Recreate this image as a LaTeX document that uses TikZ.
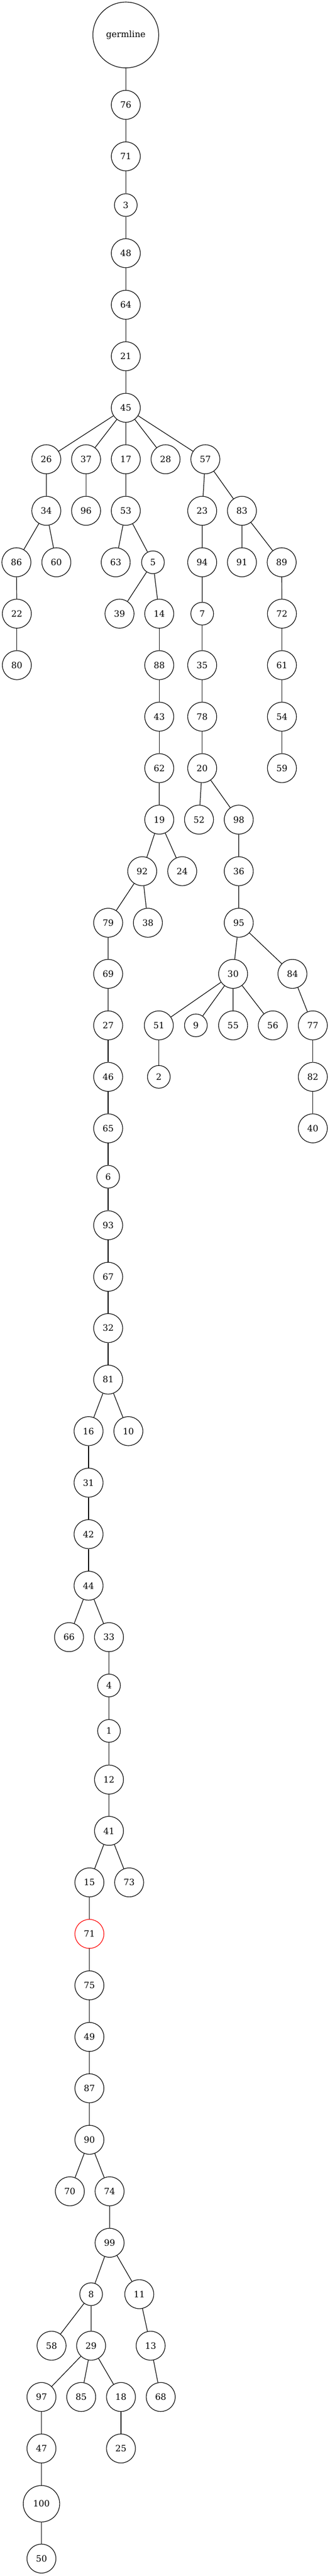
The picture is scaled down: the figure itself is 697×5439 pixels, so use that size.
\documentclass[tikz,border=0pt]{standalone}
\usepackage{fontspec}
\setmainfont{DejaVu Serif}
\definecolor{cff0000}{RGB}{255,0,0}
\tikzset{
  vert/.style={circle, draw=black, line width=0.65pt, inner sep=0pt, minimum size=30.6pt, font=\fontsize{9.2}{11}\selectfont},
  vsmall/.style={vert, minimum size=24pt},
  vwide/.style={vert, minimum size=38.5pt},
  vroot/.style={vert, minimum size=69.5pt},
  vmark/.style={vert, draw=cff0000},
  edge/.style={draw=black, line width=0.65pt}
}
\begin{document}
\begin{tikzpicture}[x=0.5pt, y=0.5pt, yscale=-1]
\useasboundingbox (0,0) rectangle (697,5439);
\node[vroot] (germline) at (265.8,73.9) {germline};
\node[vert] (n76) at (265.8,221.4) {76};
\node[vert] (n71a) at (265.8,330.2) {71};
\node[vsmall] (n3) at (265.8,433.0) {3};
\node[vert] (n48) at (265.8,534.6) {48};
\node[vert] (n64) at (265.8,643.5) {64};
\node[vert] (n21) at (265.8,752.2) {21};
\node[vert] (n45) at (265.8,861.0) {45};
\node[vert] (n26) at (97.8,969.7) {26};
\node[vert] (n37) at (181.8,969.7) {37};
\node[vert] (n17) at (265.8,969.7) {17};
\node[vert] (n28) at (349.8,969.7) {28};
\node[vert] (n57) at (433.9,969.7) {57};
\node[vert] (n34) at (97.8,1078.5) {34};
\node[vert] (n96) at (181.8,1078.5) {96};
\node[vert] (n53) at (265.8,1078.5) {53};
\node[vert] (n23) at (427.2,1078.5) {23};
\node[vert] (n83) at (511.2,1078.5) {83};
\node[vert] (n86) at (34.7,1187.2) {86};
\node[vert] (n60) at (119.1,1187.2) {60};
\node[vert] (n63) at (244.5,1187.2) {63};
\node[vsmall] (n5) at (323.2,1187.2) {5};
\node[vert] (n94) at (427.2,1187.2) {94};
\node[vert] (n91) at (511.2,1187.2) {91};
\node[vert] (n89) at (595.2,1187.2) {89};
\node[vert] (n22) at (35.6,1295.7) {22};
\node[vert] (n39) at (252.5,1295.7) {39};
\node[vert] (n14) at (336.5,1295.7) {14};
\node[vsmall] (n7) at (427.2,1295.7) {7};
\node[vert] (n72) at (595.7,1295.7) {72};
\node[vert] (n80) at (35.6,1404.4) {80};
\node[vert] (n88) at (336.5,1404.4) {88};
\node[vert] (n35) at (427.2,1404.4) {35};
\node[vert] (n61) at (595.7,1404.4) {61};
\node[vert] (n43) at (336.5,1513.2) {43};
\node[vert] (n78) at (427.2,1513.2) {78};
\node[vert] (n54) at (595.7,1513.2) {54};
\node[vert] (n62) at (336.5,1621.9) {62};
\node[vert] (n20) at (427.2,1621.9) {20};
\node[vert] (n59) at (595.7,1621.9) {59};
\node[vert] (n19) at (336.5,1730.6) {19};
\node[vert] (n52) at (420.5,1730.6) {52};
\node[vert] (n98) at (504.5,1730.6) {98};
\node[vert] (n92) at (300.5,1839.5) {92};
\node[vert] (n24) at (385.0,1839.5) {24};
\node[vert] (n36) at (504.5,1839.5) {36};
\node[vert] (n79) at (228.5,1948.3) {79};
\node[vert] (n38) at (312.5,1948.3) {38};
\node[vert] (n95) at (504.5,1948.3) {95};
\node[vert] (n69) at (228.5,2056.2) {69};
\node[vert] (n30) at (492.5,2056.2) {30};
\node[vert] (n84) at (617.9,2056.2) {84};
\node[vert] (n27) at (228.5,2165.0) {27};
\node[vert] (n51) at (335.6,2165.0) {51};
\node[vsmall] (n9) at (413.9,2165.0) {9};
\node[vert] (n55) at (492.5,2165.0) {55};
\node[vert] (n56) at (576.5,2165.0) {56};
\node[vert] (n77) at (661.0,2165.0) {77};
\node[vert] (n46) at (228.5,2273.7) {46};
\node[vsmall] (n2) at (335.6,2273.7) {2};
\node[vert] (n82) at (661.0,2273.7) {82};
\node[vert] (n65) at (228.5,2382.4) {65};
\node[vert] (n40) at (661.0,2382.4) {40};
\node[vsmall] (n6) at (228.5,2484.6) {6};
\node[vert] (n93) at (228.5,2587.0) {93};
\node[vert] (n67) at (228.5,2695.8) {67};
\node[vert] (n32) at (228.5,2804.1) {32};
\node[vert] (n81) at (228.5,2912.9) {81};
\node[vert] (n16) at (187.1,3021.7) {16};
\node[vert] (n10) at (271.2,3021.7) {10};
\node[vert] (n31) at (187.1,3130.5) {31};
\node[vert] (n42) at (187.1,3239.2) {42};
\node[vert] (n44) at (187.1,3348.0) {44};
\node[vert] (n66) at (145.8,3456.7) {66};
\node[vert] (n33) at (230.3,3456.7) {33};
\node[vsmall] (n4) at (230.3,3558.7) {4};
\node[vsmall] (n1) at (230.3,3654.6) {1};
\node[vert] (n12) at (230.3,3757.4) {12};
\node[vert] (n41) at (230.3,3865.7) {41};
\node[vert] (n15) at (188.9,3974.5) {15};
\node[vert] (n73) at (272.9,3974.5) {73};
\node[vmark] (n71b) at (188.9,4083.2) {71};
\node[vert] (n75) at (188.9,4191.9) {75};
\node[vert] (n49) at (188.9,4300.8) {49};
\node[vert] (n87) at (188.9,4409.2) {87};
\node[vert] (n90) at (188.9,4517.9) {90};
\node[vert] (n70) at (147.6,4626.7) {70};
\node[vert] (n74) at (231.6,4626.7) {74};
\node[vert] (n99) at (231.6,4735.4) {99};
\node[vsmall] (n8) at (192.5,4843.9) {8};
\node[vert] (n11) at (294.3,4843.9) {11};
\node[vert] (n58) at (108.9,4952.7) {58};
\node[vert] (n29) at (192.5,4952.7) {29};
\node[vert] (n13) at (318.3,4952.7) {13};
\node[vert] (n97) at (87.6,5061.0) {97};
\node[vert] (n85) at (171.6,5061.0) {85};
\node[vert] (n18) at (255.6,5061.0) {18};
\node[vert] (n68) at (339.6,5061.0) {68};
\node[vert] (n47) at (87.6,5169.7) {47};
\node[vert] (n25) at (255.6,5169.7) {25};
\node[vwide] (n100) at (87.6,5286.4) {100};
\node[vert] (n50) at (87.6,5402.2) {50};
\path[edge] (germline) -- (n76) (n76) -- (n71a) (n71a) -- (n3) (n3) -- (n48)
  (n48) -- (n64) (n64) -- (n21) (n21) -- (n45);
\path[edge] (n45) -- (n26) (n45) -- (n37) (n45) -- (n17) (n45) -- (n28)
  (n45) -- (n57);
\path[edge] (n26) -- (n34) (n37) -- (n96) (n17) -- (n53) (n57) -- (n23)
  (n57) -- (n83);
\path[edge] (n34) -- (n86) (n34) -- (n60) (n53) -- (n63) (n53) -- (n5)
  (n23) -- (n94) (n83) -- (n91) (n83) -- (n89);
\path[edge] (n86) -- (n22) (n5) -- (n39) (n5) -- (n14) (n94) -- (n7)
  (n89) -- (n72);
\path[edge] (n22) -- (n80) (n14) -- (n88) (n7) -- (n35) (n72) -- (n61);
\path[edge] (n88) -- (n43) (n35) -- (n78) (n61) -- (n54);
\path[edge] (n43) -- (n62) (n78) -- (n20) (n54) -- (n59);
\path[edge] (n62) -- (n19) (n20) -- (n52) (n20) -- (n98);
\path[edge] (n19) -- (n92) (n19) -- (n24) (n98) -- (n36);
\path[edge] (n92) -- (n79) (n92) -- (n38) (n36) -- (n95);
\path[edge] (n79) -- (n69) (n95) -- (n30) (n95) -- (n84);
\path[edge] (n69) -- (n27) (n30) -- (n51) (n30) -- (n9) (n30) -- (n55)
  (n30) -- (n56) (n84) -- (n77);
\path[edge] (n27) -- (n46) (n51) -- (n2) (n77) -- (n82);
\path[edge] (n46) -- (n65) (n82) -- (n40);
\path[edge] (n65) -- (n6) (n6) -- (n93) (n93) -- (n67) (n67) -- (n32)
  (n32) -- (n81);
\path[edge] (n81) -- (n16) (n81) -- (n10);
\path[edge] (n16) -- (n31) (n31) -- (n42) (n42) -- (n44);
\path[edge] (n44) -- (n66) (n44) -- (n33);
\path[edge] (n33) -- (n4) (n4) -- (n1) (n1) -- (n12) (n12) -- (n41);
\path[edge] (n41) -- (n15) (n41) -- (n73);
\path[edge] (n15) -- (n71b) (n71b) -- (n75) (n75) -- (n49) (n49) -- (n87)
  (n87) -- (n90);
\path[edge] (n90) -- (n70) (n90) -- (n74) (n74) -- (n99);
\path[edge] (n99) -- (n8) (n99) -- (n11);
\path[edge] (n8) -- (n58) (n8) -- (n29) (n11) -- (n13);
\path[edge] (n29) -- (n97) (n29) -- (n85) (n29) -- (n18) (n13) -- (n68);
\path[edge] (n97) -- (n47) (n18) -- (n25);
\path[edge] (n47) -- (n100) (n100) -- (n50);
\end{tikzpicture}
\end{document}
